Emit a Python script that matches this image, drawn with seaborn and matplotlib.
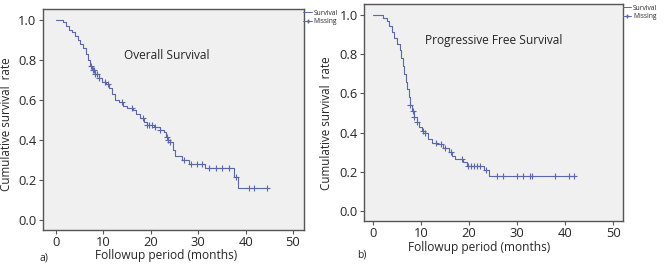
import numpy as np
import pandas as pd
import matplotlib
matplotlib.use("Agg")
import matplotlib.pyplot as plt
from matplotlib.lines import Line2D
import seaborn as sns

# overall survival: step times (months) and survival after each step
os_time = [0, 1.5, 2.2, 2.8, 3.4, 4.0, 4.6, 5.2, 5.8, 6.3, 6.8, 7.2, 7.6, 8.2, 9.0, 9.8,
           10.6, 11.2, 11.8, 12.5, 13.3, 14.2, 15.0, 16.2, 17.0, 17.8, 18.5, 19.2, 20.8,
           22.0, 22.7, 23.2, 23.6, 24.0, 24.6, 25.2, 26.6, 28.0, 31.4, 37.6, 38.3, 44.6]
os_surv = [1.0, 0.99, 0.97, 0.95, 0.94, 0.92, 0.90, 0.88, 0.86, 0.83, 0.80, 0.77, 0.75, 0.73,
           0.71, 0.69, 0.68, 0.66, 0.63, 0.60, 0.59, 0.57, 0.56, 0.55, 0.53, 0.51, 0.49, 0.475,
           0.465, 0.45, 0.44, 0.415, 0.40, 0.39, 0.35, 0.32, 0.30, 0.28, 0.26, 0.215, 0.16, 0.16]
os_cens = [7.5, 7.8, 8.0, 8.3, 8.6, 9.0, 10.3, 11.0, 14.0, 16.0, 18.3, 19.3, 19.7, 20.2, 21.0,
           22.0, 23.4, 23.7, 24.0, 27.0, 28.4, 29.8, 30.8, 32.3, 33.7, 35.1, 36.6, 38.0,
           40.7, 41.8, 44.6]

# progressive free survival
pfs_time = [0, 2.1, 2.8, 3.3, 3.9, 4.4, 4.9, 5.6, 5.9, 6.2, 6.5, 6.8, 7.1, 7.4, 7.7, 8.0,
            8.5, 9.1, 9.6, 10.2, 10.8, 11.5, 12.3, 13.3, 14.6, 15.8, 16.4, 17.1, 18.8, 19.5,
            23.0, 24.2, 42.0]
pfs_surv = [1.0, 0.985, 0.97, 0.945, 0.915, 0.88, 0.85, 0.82, 0.78, 0.74, 0.70, 0.66, 0.62,
            0.58, 0.54, 0.51, 0.48, 0.455, 0.43, 0.41, 0.40, 0.37, 0.35, 0.34, 0.32, 0.30,
            0.28, 0.265, 0.25, 0.232, 0.21, 0.18, 0.18]
pfs_cens = [7.7, 8.2, 8.6, 9.2, 10.4, 10.9, 13.0, 14.2, 15.0, 16.2, 18.6, 19.8, 20.4, 21.0,
            21.6, 22.2, 23.5, 25.8, 27.1, 29.9, 31.2, 32.6, 33.1, 37.9, 40.7, 41.9]

line_col = "#5a68a8"
bg = "#f0f0f0"
frame = "#555555"

sns.set_style("white")
plt.rcParams["font.family"] = ["Open Sans", "DejaVu Sans"]

fig = plt.figure(figsize=(6.68, 2.68), dpi=100)
ax1 = fig.add_axes([0.064, 0.142, 0.391, 0.824])
ax2 = fig.add_axes([0.545, 0.175, 0.388, 0.810])


def km_panel(ax, times, surv, cens, title, title_xy, xlim, xlab_xy, ylab_xy):
    df = pd.DataFrame({"t": times, "s": surv})
    sns.lineplot(data=df, x="t", y="s", ax=ax, estimator=None, sort=False,
                 drawstyle="steps-post", color=line_col, linewidth=0.8)
    idx = np.searchsorted(times, cens, side="right") - 1
    cdf = pd.DataFrame({"t": cens, "s": np.array(surv)[idx]})
    sns.scatterplot(data=cdf, x="t", y="s", ax=ax, marker="+", s=16,
                    color=line_col, linewidth=0.8)
    ax.set_facecolor(bg)
    ax.set_xlim(*xlim)
    ax.set_ylim(-0.05, 1.055)
    ax.set_xticks([0, 10, 20, 30, 40, 50])
    ax.set_yticks([0.0, 0.2, 0.4, 0.6, 0.8, 1.0])
    ax.set_yticklabels(["0.0", "0.2", "0.4", "0.6", "0.8", "1.0"])
    ax.tick_params(labelsize=9.3, length=3, width=0.8, color=frame, pad=1.5,
                   bottom=True, left=True)
    for sp in ax.spines.values():
        sp.set_color(frame)
        sp.set_linewidth(1.0)
    ax.set_xlabel("Followup period (months)", fontsize=8.6)
    ax.set_ylabel("Cumulative survival  rate", fontsize=8.4)
    ax.xaxis.set_label_coords(*xlab_xy)
    ax.yaxis.set_label_coords(*ylab_xy)
    ax.text(title_xy[0], title_xy[1], title, transform=ax.transAxes,
            fontsize=8.6, ha="center", va="center")
    handles = [Line2D([], [], color=line_col, linewidth=0.7),
               Line2D([], [], color=line_col, linewidth=0.7, marker="+", markersize=3.5)]
    ax.legend(handles, ["Survival", "Missing"], loc="upper left",
              bbox_to_anchor=(0.995, 1.0), frameon=False, fontsize=4.8,
              handlelength=1.3, handletextpad=0.25, labelspacing=0.2,
              borderaxespad=0.0, borderpad=0.1)


km_panel(ax1, os_time, os_surv, os_cens, "Overall Survival", (0.475, 0.79),
         (-2.75, 52.3), (0.471, -0.085), (-0.115, 0.48))
km_panel(ax2, pfs_time, pfs_surv, pfs_cens, "Progressive Free Survival", (0.50, 0.83),
         (-1.9, 52.1), (0.444, -0.09), (-0.12, 0.45))

fig.text(40 / 668, 1 - 258 / 268, "a)", fontsize=7.5, ha="left", va="center")
fig.text(357 / 668, 1 - 255 / 268, "b)", fontsize=7.5, ha="left", va="center")

fig.savefig("out.png", dpi=100, facecolor="white")
